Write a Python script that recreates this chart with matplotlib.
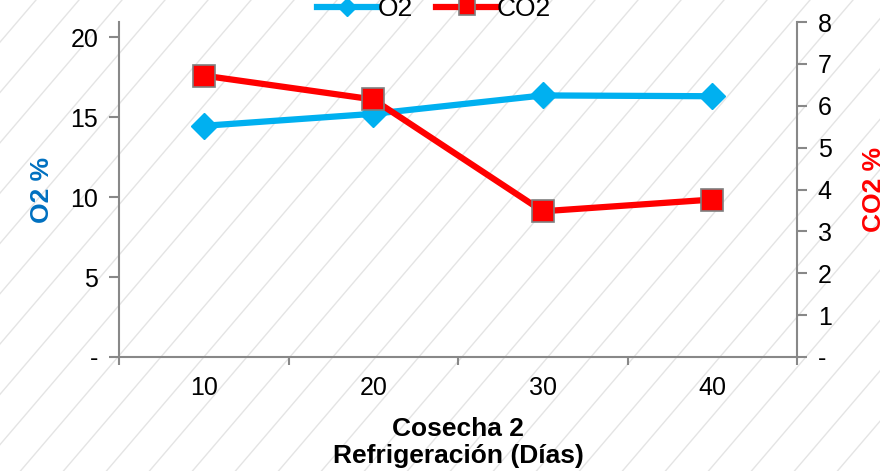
import numpy as np
import matplotlib.pyplot as plt
from matplotlib.lines import Line2D

plt.rcParams['font.family'] = ['Liberation Sans', 'DejaVu Sans']

# data
dias = ['10', '20', '30', '40']
o2 = [14.45, 15.2, 16.35, 16.3]
co2 = [6.72, 6.15, 3.48, 3.76]

fig = plt.figure(figsize=(8.8, 4.71), dpi=100)

# diagonal background hatch over whole figure
W, H = 880, 471
slope = 1.17
for x0 in np.arange(-H / slope - 50, W + 50, 43):
    fig.add_artist(Line2D([x0, x0 + H / slope], [0, H], transform=None,
                          color='#e4e4e4', lw=1.0, zorder=0))

ax = fig.add_axes([119 / W, 1 - 357 / H, (797 - 119) / W, (357 - 22) / H])
ax.patch.set_alpha(0)
ax2 = ax.twinx()

x = np.arange(len(dias))
ax.plot(x, o2, color='#00B0F0', lw=4.5, marker='D', ms=13,
        mec='#00B0F0', mfc='#00B0F0', zorder=3, label='O2')
ax2.plot(x, co2, color='#FF0000', lw=4.5, marker='s', ms=16,
         mec='#7f7f7f', mew=1.2, mfc='#FF0000', zorder=3, label='CO2')

ax.set_xlim(-0.5, 3.5)
ax.set_ylim(0, 20.94)
ax2.set_ylim(0, 8)
ax.set_xticks(x)
ax.set_xticklabels(dias)
ax.set_xticks(np.arange(-0.5, 4, 1), minor=True)
ax.tick_params(axis='x', which='major', length=0, labelsize=18, pad=14)
ax.tick_params(axis='x', which='minor', length=6, width=1.5, color='#888888', direction='out')

ax.set_yticks([0, 5, 10, 15, 20])
ax.set_yticklabels(['-', '5', '10', '15', '20'])
ax.tick_params(axis='y', labelsize=18, length=7, width=1.5, color='#888888', pad=8)
ax2.set_yticks(range(0, 9))
ax2.set_yticklabels(['-'] + [str(i) for i in range(1, 9)])
ax2.tick_params(axis='y', labelsize=18, length=7, width=1.5, color='#888888', pad=8)

for a in (ax, ax2):
    for s in a.spines.values():
        s.set_visible(False)
ax.spines['left'].set_visible(True)
ax.spines['bottom'].set_visible(True)
ax2.spines['right'].set_visible(True)
for s in (ax.spines['left'], ax.spines['bottom'], ax2.spines['right']):
    s.set_color('#888888')
    s.set_linewidth(1.5)

ax.set_ylabel('O2 %', color='#0070C0', fontsize=19, fontweight='bold', labelpad=12)
ax2.set_ylabel('CO2 %', color='#FF0000', fontsize=19, fontweight='bold', labelpad=22)
ax.set_xlabel('Cosecha 2\nRefrigeración (Días)', fontsize=19, fontweight='bold',
              labelpad=12, linespacing=1.15)

h1, l1 = ax.get_legend_handles_labels()
h2, l2 = ax2.get_legend_handles_labels()
fig.legend(h1 + h2, l1 + l2, loc='center', bbox_to_anchor=(434 / W, 1 - 9 / H),
           bbox_transform=fig.transFigure, ncol=2, frameon=False, fontsize=19,
           handlelength=2.3, columnspacing=0.9, handletextpad=0.0, borderpad=0,
           markerscale=0.7)

fig.savefig('out.png', dpi=100)
